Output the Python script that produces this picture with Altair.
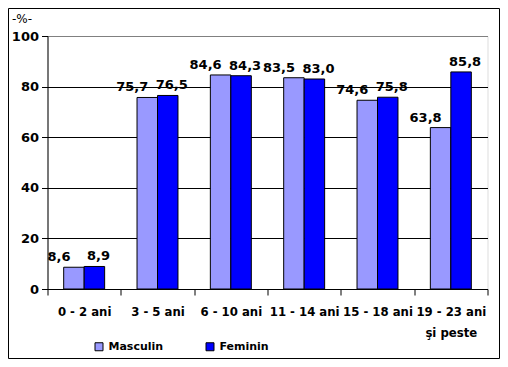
import altair as alt
import pandas as pd

categories = ["0 - 2 ani", "3 - 5 ani", "6 - 10 ani", "11 - 14 ani", "15 - 18 ani", "19 - 23 ani\nşi peste"]
series = ["Masculin", "Feminin"]
masculin = [8.6, 75.7, 84.6, 83.5, 74.6, 63.8]
feminin = [8.9, 76.5, 84.3, 83.0, 75.8, 85.8]
colors = ["#9999FF", "#0000FF"]
y_ticks = [0, 20, 40, 60, 80, 100]

rows = []
for c, m, f in zip(categories, masculin, feminin):
    rows.append({"cat": c, "ser": "Masculin", "val": m})
    rows.append({"cat": c, "ser": "Feminin", "val": f})
df = pd.DataFrame(rows)
df["lbl"] = df["val"].map(lambda v: f"{v:.1f}".replace(".", ","))

FONT = "DejaVu Sans"
XFONT = "DejaVu Sans Condensed, DejaVu Sans"

x = alt.X(
    "cat:N", sort=categories, title=None,
    scale=alt.Scale(paddingInner=0, paddingOuter=0),
    axis=alt.Axis(
        labelAngle=0, tickBand="extent", tickSize=6, tickColor="black",
        domainColor="black", labelFont=XFONT, labelFontSize=13,
        labelFontWeight="bold", labelColor="black", labelPadding=10,
        labelExpr="split(datum.label, '\\n')", labelLineHeight=21,
    ),
)
xo = alt.XOffset("ser:N", sort=series, scale=alt.Scale(paddingInner=0, paddingOuter=0.79))
y = alt.Y(
    "val:Q", scale=alt.Scale(domain=[0, 100]),
    axis=alt.Axis(
        values=y_ticks, title="-%-", titleAngle=0, titleX=-26, titleY=-18,
        titleFont=FONT, titleFontSize=12, titleFontWeight="normal",
        titleAlign="center", titleBaseline="middle", titleColor="black",
        labelFont=FONT, labelFontSize=13, labelFontWeight="bold",
        labelColor="black", tickSize=6, tickColor="black", domainColor="black",
        labelPadding=3,
        gridColor={"condition": {"test": "datum.value == 100", "value": "#808080"}, "value": "black"},
    ),
)

bars = alt.Chart(df).mark_bar(stroke="black", strokeWidth=1).encode(
    x=x, xOffset=xo, y=y,
    color=alt.Color(
        "ser:N", sort=series,
        scale=alt.Scale(domain=series, range=colors),
        legend=alt.Legend(
            title=None, orient="none", legendX=46, legendY=305,
            direction="horizontal", symbolType="square", symbolSize=64,
            symbolStrokeColor="black", symbolStrokeWidth=1,
            labelFont=FONT, labelFontSize=11, labelFontWeight="bold",
            labelColor="black", columnPadding=40, labelOffset=4,
        ),
    ),
)

def labels(name, dx):
    return alt.Chart(df).transform_filter(alt.datum.ser == name).mark_text(
        dx=dx, dy=-3, baseline="bottom", font=FONT, fontSize=13,
        fontWeight="bold", color="black",
    ).encode(x=x, xOffset=xo, y=y, text="lbl:N")

border = alt.Chart(pd.DataFrame({"a": [0]})).mark_rect(
    fillOpacity=0, stroke="black", strokeWidth=1
).encode(x=alt.value(-39), x2=alt.value(452), y=alt.value(-27.5), y2=alt.value(322.5))

chart = alt.layer(bars, labels("Masculin", -15), labels("Feminin", 4), border).properties(
    width=440, height=253,
    autosize=alt.AutoSizeParams(type="none"),
    padding={"left": 39.5, "top": 28, "right": 12.5, "bottom": 70},
).configure_view(stroke="#808080", strokeWidth=2).configure(background="white")

chart.save("out.html", embed_options={"renderer": "svg", "actions": False})
